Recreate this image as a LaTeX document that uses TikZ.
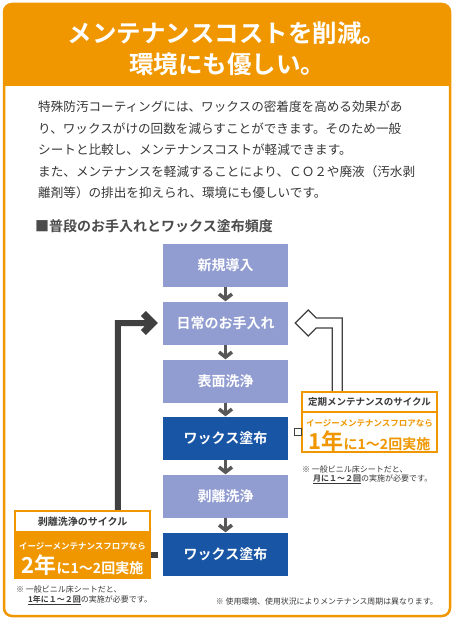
\documentclass[tikz,border=0pt]{standalone}
\usepackage{fontspec}
\setmainfont{Noto Sans CJK JP}[BoldFont={Noto Sans CJK JP Bold}]
\usepackage{tikz}
\usetikzlibrary{arrows.meta,calc,positioning}
\definecolor{frameorange}{RGB}{240,151,0}
\definecolor{boxlight}{RGB}{145,156,208}
\definecolor{boxdark}{RGB}{25,85,165}
\definecolor{textgray}{RGB}{55,55,55}
\definecolor{arrowgray}{RGB}{88,88,88}
\definecolor{loopgray}{RGB}{64,64,64}
\newcommand{\jfs}[1]{\fontsize{#1}{#1}\selectfont}

\tikzset{
  stepbox/.style={minimum width=125pt,minimum height=43pt,inner sep=0pt,text=white,font=\bfseries\jfs{14}},
  lightbox/.style={stepbox,fill=boxlight},
  darkbox/.style={stepbox,fill=boxdark},
  flowarrow/.style={draw=arrowgray,line width=3.5pt,-{Straight Barb[length=5pt,width=13pt]}},
  bodytext/.style={anchor=west,inner sep=0pt,text=textgray,font=\jfs{12.6}},
  notetext/.style={anchor=west,inner sep=0pt,text=textgray,font=\jfs{8}},
  cyclebody/.style={draw=frameorange,line width=1.2pt,minimum width=135pt,inner sep=0pt},
  cyclehead/.style={cyclebody,fill=white,text=textgray,font=\bfseries\jfs{9.5}},
}

\begin{document}
\begin{tikzpicture}[x=1pt,y=-1pt]
    \useasboundingbox (0,0) rectangle (456,620);

    % frame and header
    \fill[frameorange,rounded corners=8pt] (4,4) rectangle (450,40);
    \fill[frameorange] (4,20) rectangle (450,86);
    \draw[frameorange,line width=2.5pt,rounded corners=8pt] (4,4) rectangle (450,616);

    \node[text=white,font=\bfseries\jfs{24.5}] (title1) at (227,33) {メンテナンスコストを削減。};
    \node[text=white,font=\bfseries\jfs{24.5}] (title2) at (227,64) {環境にも優しい。};

    \node[bodytext] (line1) at (38,107) {特殊防汚コーティングには、ワックスの密着度を高める効果があ};
    \node[bodytext] (line2) at (38,128.5) {り、ワックスがけの回数を減らすことができます。そのため一般};
    \node[bodytext] (line3) at (38,150) {シートと比較し、メンテナンスコストが軽減できます。};
    \node[bodytext] (line4) at (38,171.5) {また、メンテナンスを軽減することにより、ＣＯ２や廃液（汚水剥};
    \node[bodytext] (line5) at (38,193) {離剤等）の排出を抑えられ、環境にも優しいです。};

    \node[anchor=west,inner sep=0pt,text=textgray!90,font=\bfseries\jfs{14}] (heading) at (35,226) {■普段のお手入れとワックス塗布頻度};

    % flow
    \node[lightbox] (intro) at (225.5,265.5) {新規導入};
    \node[lightbox] (daily) at (225.5,323) {日常のお手入れ};
    \node[lightbox] (surface) at (225.5,381) {表面洗浄};
    \node[darkbox] (wax1) at (225.5,438) {ワックス塗布};
    \node[lightbox] (strip) at (225.5,496) {剥離洗浄};
    \node[darkbox] (wax2) at (225.5,554) {ワックス塗布};

    \draw[flowarrow] (intro) -- (daily);
    \draw[flowarrow] (daily) -- (surface);
    \draw[flowarrow] (surface) -- (wax1);
    \draw[flowarrow] (wax1) -- (strip);
    \draw[flowarrow] (strip) -- (wax2);

    % stripping cycle loop
    \coordinate (ltip) at ([xshift=-5pt]daily.west);
    \fill[loopgray] (ltip) -- ++(-12,-12) -- ++(-5,5) -- ++(4,4) -- ++(-30,0) -- ++(0,191)
        -- ++(6,0) -- ++(0,-185) -- ++(24,0) -- ++(-4,4) -- ++(5,5) -- cycle;

    % regular cycle loop
    \coordinate (rtip) at ([xshift=7pt]daily.east);
    \filldraw[fill=white,draw=loopgray,line width=1.3pt,line join=miter] (rtip) -- ++(13,-13) -- ++(8,8)
        -- ++(26,0) -- ++(0,74) -- ++(-10,0) -- ++(0,-64) -- ++(-16,0) -- ++(-8,8) -- cycle;

    % regular maintenance box
    \node[cyclebody,fill=white,minimum height=40pt] (rbody) at (369.5,432) {};
    \node[cyclehead,minimum height=20pt] (rhead) at (369.5,402) {定期メンテナンスのサイクル};
    \node[text=frameorange,font=\bfseries\jfs{8.5}] (rnote) at (369.5,423) {イージーメンテナンスフロアなら};
    \node[anchor=base,text=frameorange,font=\bfseries\jfs{14}] (rfreq) at (369.5,449) {{\jfs{22}1年}に1～2回実施};
    \filldraw[fill=white,draw=loopgray,line width=1.2pt] ($(rbody.west)+(-7,-3.5)$) rectangle ++(7,7);

    \node[notetext] (rsub1) at (302,469) {※ 一般ビニル床シートだと、};
    \node[notetext] (rsub2) at (313,479) {\underline{\textbf{月に１～２回}}の実施が必要です。};

    % stripping cycle box
    \node[cyclebody,fill=frameorange,minimum height=46pt] (lbody) at (82.5,555) {};
    \node[cyclehead,minimum height=21pt,font=\bfseries\jfs{10}] (lhead) at (82.5,521.5) {剥離洗浄のサイクル};
    \node[text=white,font=\bfseries\jfs{8.5}] (lnote) at (82.5,546) {イージーメンテナンスフロアなら};
    \node[anchor=base,text=white,font=\bfseries\jfs{14}] (lfreq) at (82.5,573) {{\jfs{22}2年}に1～2回実施};
    \fill[loopgray] ($(lbody.east)+(0,-3)$) rectangle ++(7,6);

    \node[notetext] (lsub1) at (16,589) {※ 一般ビニル床シートだと、};
    \node[notetext] (lsub2) at (28,600) {\underline{\textbf{1年に１～２回}}の実施が必要です。};

    \node[notetext,anchor=east,font=\jfs{7.9}] (footnote) at (438,602) {※ 使用環境、使用状況によりメンテナンス周期は異なります。};
\end{tikzpicture}
\end{document}
